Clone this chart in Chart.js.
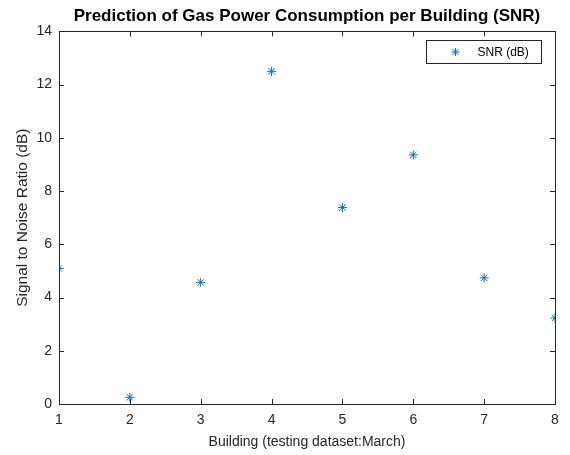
<!DOCTYPE html>
<html>
<head>
<meta charset="utf-8">
<script src="https://cdn.jsdelivr.net/npm/chart.js@4.4.1/dist/chart.umd.min.js"></script>
<style>
  body { margin: 0; background: #fff; }
  canvas { display: block; }
</style>
</head>
<body>
<canvas id="snrChart" width="570" height="455"></canvas>
<script>
// Building numbers and SNR per building (dB)
var buildings = [1, 2, 3, 4, 5, 6, 7, 8];
var snrValues = [5.09, 0.25, 4.57, 12.5, 7.38, 9.36, 4.74, 3.23];
var xTicks = [1, 2, 3, 4, 5, 6, 7, 8];
var yTicks = [0, 2, 4, 6, 8, 10, 12, 14];
var seriesLabel = 'SNR (dB)';

var axisColor = '#262626';
var markerColor = '#0072BD';
var fontFamily = '"Liberation Sans", Arial, Helvetica, sans-serif';

function drawStar(ctx, cx, cy, r) {
    var d = r * 0.707;
    ctx.beginPath();
    ctx.moveTo(cx - r, cy); ctx.lineTo(cx + r, cy);
    ctx.moveTo(cx, cy - r); ctx.lineTo(cx, cy + r);
    ctx.moveTo(cx - d, cy - d); ctx.lineTo(cx + d, cy + d);
    ctx.moveTo(cx - d, cy + d); ctx.lineTo(cx + d, cy - d);
    ctx.stroke();
}

// Box round the plot with inward ticks on all four sides, plus the legend
var boxPlugin = {
    id: 'boxAxes',
    afterDatasetsDraw: function(chart) {
        var ctx = chart.ctx;
        var area = chart.chartArea;
        var xs = chart.scales.x, ys = chart.scales.y;
        var len = 5;
        ctx.save();
        ctx.strokeStyle = axisColor;
        ctx.lineWidth = 1;
        ctx.beginPath();
        xTicks.forEach(function(v) {
            var px = Math.round(xs.getPixelForValue(v)) + 0.5;
            ctx.moveTo(px, area.bottom); ctx.lineTo(px, area.bottom - len);
            ctx.moveTo(px, area.top); ctx.lineTo(px, area.top + len);
        });
        yTicks.forEach(function(v) {
            var py = Math.round(ys.getPixelForValue(v)) + 0.5;
            ctx.moveTo(area.left, py); ctx.lineTo(area.left + len, py);
            ctx.moveTo(area.right, py); ctx.lineTo(area.right - len, py);
        });
        ctx.stroke();
        ctx.strokeRect(Math.round(area.left) + 0.5, Math.round(area.top) + 0.5,
            Math.round(area.right - area.left), Math.round(area.bottom - area.top));

        var w = 115, h = 23;
        var lx = Math.round(area.right - 14 - w) + 0.5;
        var ly = Math.round(area.top + 9) + 0.5;
        ctx.fillStyle = '#fff';
        ctx.fillRect(lx, ly, w, h);
        ctx.strokeRect(lx, ly, w, h);
        ctx.strokeStyle = markerColor;
        drawStar(ctx, lx + 29, ly + h / 2, 4);
        ctx.fillStyle = '#000';
        ctx.font = '12px ' + fontFamily;
        ctx.textBaseline = 'middle';
        ctx.textAlign = 'left';
        ctx.fillText(seriesLabel, lx + 51, ly + h / 2 + 1);
        ctx.restore();
    }
};

var chart = new Chart(document.getElementById('snrChart'), {
    type: 'scatter',
    data: {
        datasets: [{
            label: seriesLabel,
            data: buildings.map(function(b, i) { return { x: b, y: snrValues[i] }; }),
            pointStyle: 'star',
            radius: 4.5,
            borderWidth: 1,
            borderColor: markerColor,
            backgroundColor: markerColor
        }]
    },
    options: {
        responsive: false,
        animation: false,
        layout: { padding: { left: 0, right: 15, top: 0, bottom: 0 } },
        plugins: {
            legend: { display: false },
            tooltip: { enabled: false },
            title: {
                display: true,
                fullSize: false,
                text: 'Prediction of Gas Power Consumption per Building (SNR)',
                color: '#000',
                font: { family: fontFamily, size: 17, weight: 'bold' },
                padding: { top: 6, bottom: 5 }
            }
        },
        scales: {
            x: {
                type: 'linear',
                min: 1, max: 8,
                afterBuildTicks: function(s) { s.ticks = xTicks.map(function(v) { return { value: v }; }); },
                afterFit: function(s) { s.height = 51; },
                grid: { display: false, drawTicks: false },
                border: { display: false },
                ticks: {
                    color: axisColor, padding: 8,
                    font: { family: fontFamily, size: 14 }
                },
                title: {
                    display: true,
                    text: 'Building (testing dataset:March)',
                    color: axisColor,
                    font: { family: fontFamily, size: 14 },
                    padding: { top: 0 }
                }
            },
            y: {
                min: 0, max: 14,
                afterBuildTicks: function(s) { s.ticks = yTicks.map(function(v) { return { value: v }; }); },
                afterFit: function(s) { s.width = 59; },
                grid: { display: false, drawTicks: false },
                border: { display: false },
                ticks: {
                    color: axisColor, padding: 7,
                    font: { family: fontFamily, size: 14 }
                },
                title: {
                    display: true,
                    text: 'Signal to Noise Ratio (dB)',
                    color: axisColor,
                    font: { family: fontFamily, size: 15.5 },
                    padding: { top: 13, bottom: 0 }
                }
            }
        }
    },
    plugins: [boxPlugin]
});
</script>
</body>
</html>
